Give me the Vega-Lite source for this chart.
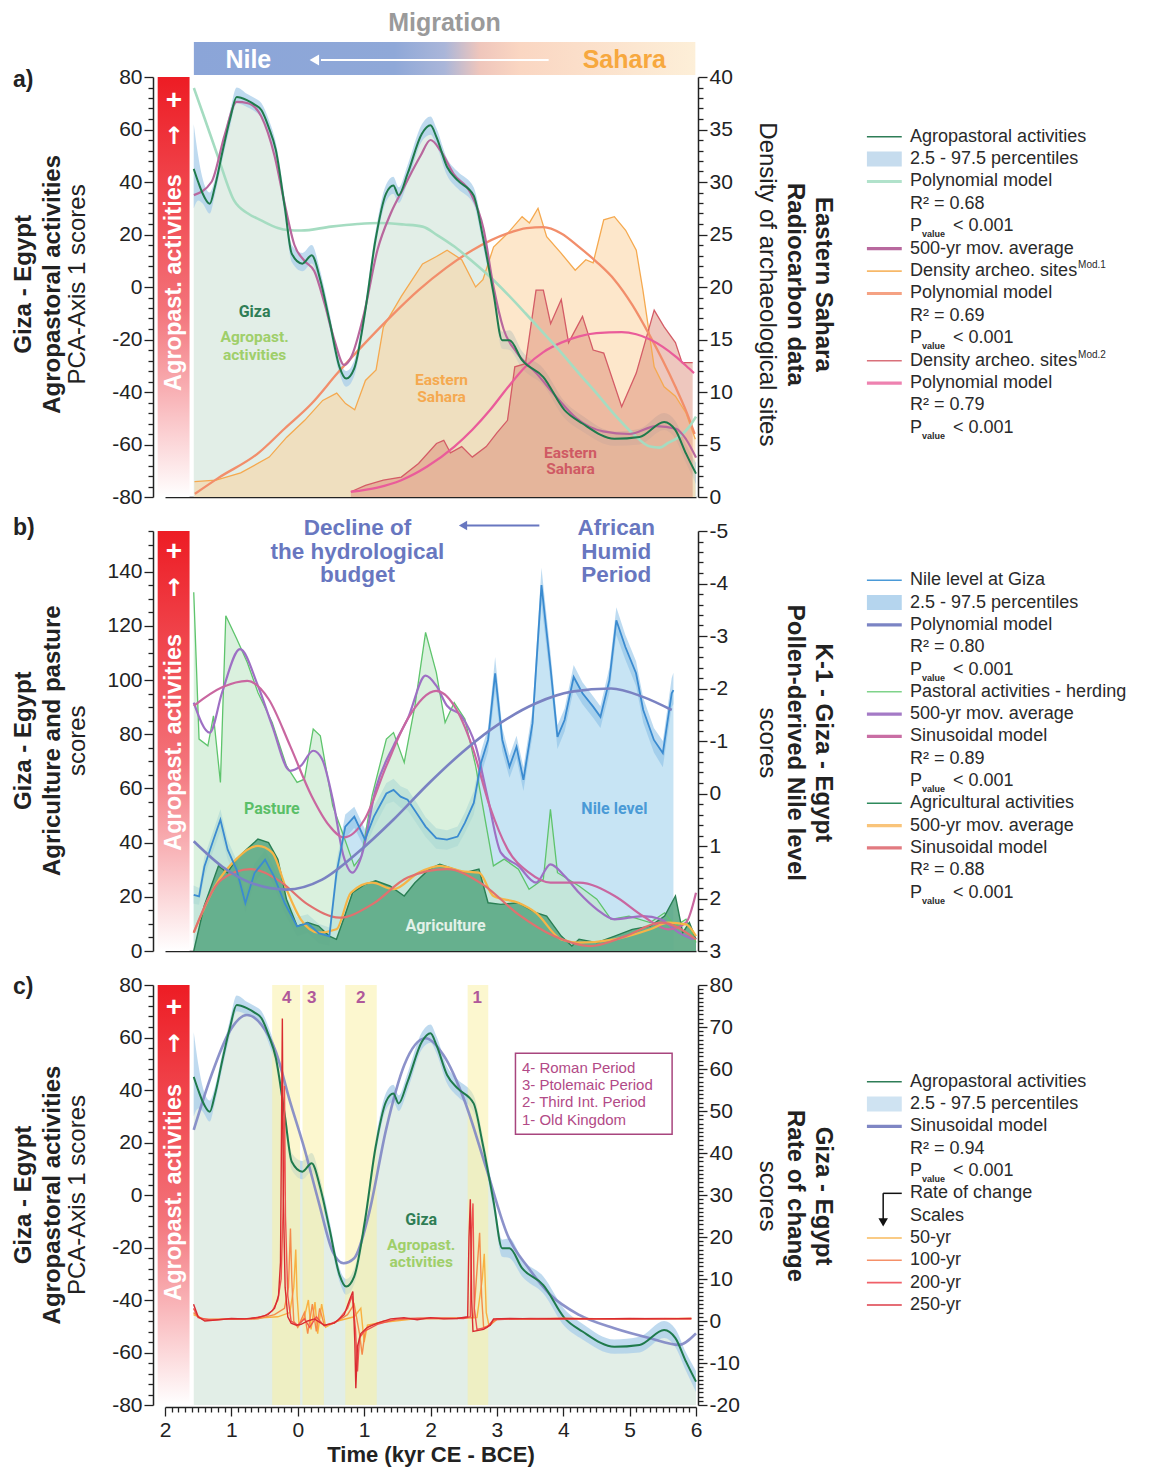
{
"$schema":"https://vega.github.io/schema/vega-lite/v6.json",
"background":"white",
"padding":{"left":12,"top":10,"right":5,"bottom":5},
"autosize":{"type":"pad"},
"config":{"view":{"stroke":null},"font":"Liberation Sans","axis":{"labelFont":"Liberation Sans","labelFontSize":21,"labelColor":"#222","domainColor":"#222","tickColor":"#222","domainWidth":1.5,"tickWidth":1.3,"grid":false,"labelOverlap":false,"labelFlush":false}},
"datasets":{
"one":[{}],
"agro":[{"t":-1.567,"v":45,"lo":30,"hi":62},{"t":-1.5,"v":40,"lo":33,"hi":50},{"t":-1.44,"v":36,"lo":32,"hi":42},{"t":-1.326,"v":31.7,"lo":28,"hi":36},{"t":-1.25,"v":38,"lo":35,"hi":41},{"t":-1.13,"v":52,"lo":49,"hi":55},{"t":-1.02,"v":64,"lo":61,"hi":67},{"t":-0.92,"v":72.4,"lo":70,"hi":76},{"t":-0.76,"v":71.1,"lo":68.5,"hi":73.5},{"t":-0.65,"v":69.5,"lo":67,"hi":72},{"t":-0.546,"v":67.3,"lo":64.5,"hi":70},{"t":-0.44,"v":61,"lo":58,"hi":64},{"t":-0.33,"v":52.2,"lo":49,"hi":55},{"t":-0.196,"v":30.5,"lo":27,"hi":34},{"t":-0.09,"v":12.7,"lo":9.5,"hi":16},{"t":0.07,"v":8.9,"lo":6,"hi":13},{"t":0.21,"v":12.1,"lo":9,"hi":16},{"t":0.34,"v":2.7,"lo":-0.5,"hi":6},{"t":0.476,"v":-12.6,"lo":-15.5,"hi":-9.5},{"t":0.63,"v":-30.5,"lo":-33,"hi":-28},{"t":0.73,"v":-34.9,"lo":-38,"hi":-32},{"t":0.85,"v":-31.1,"lo":-34,"hi":-28},{"t":1.01,"v":-10.2,"lo":-13,"hi":-7},{"t":1.17,"v":17.8,"lo":15,"hi":21},{"t":1.33,"v":35.6,"lo":32.5,"hi":39},{"t":1.44,"v":38.7,"lo":35.5,"hi":42},{"t":1.52,"v":34.9,"lo":32,"hi":38},{"t":1.655,"v":43.2,"lo":40,"hi":46.5},{"t":1.87,"v":58.4,"lo":55.5,"hi":62},{"t":2.0,"v":61.6,"lo":58,"hi":65},{"t":2.09,"v":57.1,"lo":54,"hi":60.5},{"t":2.25,"v":45.7,"lo":42.5,"hi":49},{"t":2.41,"v":40.6,"lo":37.5,"hi":44},{"t":2.65,"v":34.9,"lo":31.5,"hi":38},{"t":2.78,"v":20.3,"lo":17,"hi":23.5},{"t":2.95,"v":-2.5,"lo":-5.5,"hi":0.5},{"t":3.08,"v":-20.3,"lo":-23.5,"hi":-17},{"t":3.19,"v":-20.3,"lo":-24,"hi":-16.5},{"t":3.38,"v":-27.9,"lo":-31,"hi":-24.5},{"t":3.7,"v":-34.3,"lo":-37.5,"hi":-31},{"t":4.02,"v":-46.9,"lo":-50,"hi":-43.5},{"t":4.29,"v":-52,"lo":-55,"hi":-49},{"t":4.77,"v":-57.8,"lo":-60.5,"hi":-55},{"t":5.15,"v":-57.1,"lo":-60,"hi":-54},{"t":5.52,"v":-51.4,"lo":-54.5,"hi":-48},{"t":5.69,"v":-54.5,"lo":-58,"hi":-51},{"t":5.85,"v":-63.5,"lo":-67,"hi":-60},{"t":6.0,"v":-71.1,"lo":-75,"hi":-67}],
"mintA":[{"t":-1.565,"v":75.8},{"t":-1.4,"v":64},{"t":-1.2,"v":49.5},{"t":-0.96,"v":33},{"t":-0.75,"v":28},{"t":-0.56,"v":25.5},{"t":-0.3,"v":22.5},{"t":-0.15,"v":21.7},{"t":0.05,"v":21.5},{"t":0.5,"v":23},{"t":0.9,"v":24},{"t":1.23,"v":24.4},{"t":1.6,"v":23.8},{"t":1.88,"v":23},{"t":2.1,"v":19.8},{"t":2.36,"v":15.4},{"t":2.62,"v":10},{"t":2.9,"v":3.8},{"t":3.17,"v":-3},{"t":3.43,"v":-10},{"t":3.7,"v":-17.5},{"t":3.97,"v":-25},{"t":4.24,"v":-33},{"t":4.5,"v":-40.4},{"t":4.77,"v":-48.5},{"t":5.04,"v":-55.6},{"t":5.31,"v":-60.8},{"t":5.45,"v":-61.2},{"t":5.58,"v":-59.4},{"t":5.75,"v":-57},{"t":5.9,"v":-53.2},{"t":6.0,"v":-49.4}],
"avgA":[{"t":-1.565,"v":35},{"t":-1.3,"v":40},{"t":-1.1,"v":58},{"t":-0.92,"v":70.5},{"t":-0.75,"v":70},{"t":-0.55,"v":65},{"t":-0.35,"v":50},{"t":-0.2,"v":32},{"t":-0.05,"v":16},{"t":0.1,"v":10},{"t":0.25,"v":6},{"t":0.4,"v":-6},{"t":0.55,"v":-20},{"t":0.7,"v":-29.7},{"t":0.8,"v":-27},{"t":1.0,"v":-10},{"t":1.2,"v":14},{"t":1.4,"v":28},{"t":1.6,"v":38},{"t":1.85,"v":50},{"t":2.0,"v":56},{"t":2.15,"v":52},{"t":2.35,"v":43},{"t":2.6,"v":36},{"t":2.8,"v":22},{"t":2.95,"v":0},{"t":3.1,"v":-16},{"t":3.3,"v":-25},{"t":3.6,"v":-33},{"t":3.9,"v":-42},{"t":4.2,"v":-50},{"t":4.6,"v":-55},{"t":5.0,"v":-56},{"t":5.4,"v":-53},{"t":5.7,"v":-54},{"t":5.85,"v":-58},{"t":6.0,"v":-65}],
"dens1":[{"t":-1.556,"d":1.46},{"t":-1.23,"d":1.6},{"t":-0.86,"d":2.3},{"t":-0.43,"d":3.8},{"t":-0.166,"d":5.7},{"t":0.105,"d":7.3},{"t":0.376,"d":9.2},{"t":0.587,"d":9.9},{"t":0.72,"d":8.9},{"t":0.858,"d":8.3},{"t":1.02,"d":11.1},{"t":1.18,"d":12.1},{"t":1.29,"d":16.2},{"t":1.56,"d":19.1},{"t":1.88,"d":22.2},{"t":2.09,"d":22.9},{"t":2.25,"d":23.5},{"t":2.47,"d":22.6},{"t":2.68,"d":20},{"t":2.79,"d":20.7},{"t":2.95,"d":23.8},{"t":3.16,"d":25.1},{"t":3.38,"d":26.7},{"t":3.49,"d":26.1},{"t":3.62,"d":27.5},{"t":3.75,"d":24.8},{"t":3.97,"d":23.2},{"t":4.18,"d":21.6},{"t":4.34,"d":22.6},{"t":4.45,"d":22.3},{"t":4.61,"d":26.4},{"t":4.77,"d":26.7},{"t":4.94,"d":25.4},{"t":5.1,"d":23.5},{"t":5.2,"d":19.7},{"t":5.37,"d":12.4},{"t":5.52,"d":10.5},{"t":5.69,"d":9.6},{"t":5.85,"d":8},{"t":5.99,"d":5.5}],
"poly1":[{"t":-1.55,"d":0.3},{"t":-1.2,"d":1.8},{"t":-0.59,"d":4.2},{"t":-0.2,"d":6.5},{"t":0.21,"d":8.9},{"t":0.6,"d":11.8},{"t":1.02,"d":14.7},{"t":1.42,"d":17.3},{"t":1.82,"d":19.7},{"t":2.23,"d":21.8},{"t":2.63,"d":23.5},{"t":3.16,"d":25.1},{"t":3.45,"d":25.6},{"t":3.7,"d":25.7},{"t":3.97,"d":25.1},{"t":4.24,"d":23.8},{"t":4.5,"d":22.4},{"t":4.77,"d":20.7},{"t":5.04,"d":18.3},{"t":5.31,"d":15.3},{"t":5.5,"d":13},{"t":5.69,"d":10.5},{"t":5.85,"d":8.2},{"t":5.98,"d":6.0}],
"dens2":[{"t":0.8,"d":0.5},{"t":1.02,"d":1.1},{"t":1.29,"d":1.6},{"t":1.56,"d":1.9},{"t":1.82,"d":3.2},{"t":2.09,"d":5.1},{"t":2.2,"d":5.4},{"t":2.3,"d":4.2},{"t":2.47,"d":4.8},{"t":2.63,"d":3.8},{"t":2.84,"d":4.8},{"t":3.0,"d":6.1},{"t":3.16,"d":7.3},{"t":3.27,"d":12.4},{"t":3.43,"d":12.7},{"t":3.59,"d":19.7},{"t":3.7,"d":19.7},{"t":3.81,"d":16.5},{"t":3.97,"d":18.8},{"t":4.08,"d":14.7},{"t":4.29,"d":17.2},{"t":4.45,"d":14},{"t":4.61,"d":13.7},{"t":4.88,"d":8.6},{"t":5.1,"d":11.8},{"t":5.37,"d":17.8},{"t":5.52,"d":16.2},{"t":5.69,"d":14.7},{"t":5.79,"d":12.8},{"t":5.95,"d":12.8}],
"poly2":[{"t":0.8,"d":0.5},{"t":1.2,"d":0.9},{"t":1.56,"d":1.6},{"t":1.95,"d":2.9},{"t":2.36,"d":4.8},{"t":2.63,"d":6.4},{"t":2.9,"d":8.3},{"t":3.16,"d":10.4},{"t":3.43,"d":12.4},{"t":3.7,"d":13.8},{"t":3.97,"d":14.7},{"t":4.24,"d":15.3},{"t":4.5,"d":15.6},{"t":4.88,"d":15.7},{"t":5.1,"d":15.5},{"t":5.31,"d":15.0},{"t":5.5,"d":14.3},{"t":5.69,"d":13.4},{"t":5.85,"d":12.5},{"t":5.97,"d":11.8}],
"nile":[{"t":-1.567,"w":1.93,"lo":1.75,"hi":2.1},{"t":-1.487,"w":1.96,"lo":1.8,"hi":2.12},{"t":-1.406,"w":1.39,"lo":1.2,"hi":1.58},{"t":-1.27,"w":0.88,"lo":0.7,"hi":1.08},{"t":-1.165,"w":0.5,"lo":0.3,"hi":0.72},{"t":-1.056,"w":1.07,"lo":0.88,"hi":1.25},{"t":-0.922,"w":1.45,"lo":1.27,"hi":1.63},{"t":-0.789,"w":2.09,"lo":1.9,"hi":2.27},{"t":-0.653,"w":1.52,"lo":1.34,"hi":1.7},{"t":-0.492,"w":1.26,"lo":1.08,"hi":1.44},{"t":-0.358,"w":1.58,"lo":1.4,"hi":1.76},{"t":-0.197,"w":2.09,"lo":1.9,"hi":2.28},{"t":-0.01,"w":2.53,"lo":2.35,"hi":2.72},{"t":0.15,"w":2.47,"lo":2.3,"hi":2.65},{"t":0.315,"w":2.66,"lo":2.48,"hi":2.85},{"t":0.476,"w":2.72,"lo":2.55,"hi":2.9},{"t":0.583,"w":1.52,"lo":1.3,"hi":1.72},{"t":0.716,"w":0.63,"lo":0.4,"hi":0.85},{"t":0.852,"w":0.44,"lo":0.25,"hi":0.65},{"t":1.013,"w":0.88,"lo":0.68,"hi":1.05},{"t":1.147,"w":0.44,"lo":0.25,"hi":0.65},{"t":1.335,"w":0.0,"lo":-0.2,"hi":0.2},{"t":1.443,"w":-0.07,"lo":-0.28,"hi":0.15},{"t":1.55,"w":0.06,"lo":-0.14,"hi":0.27},{"t":1.655,"w":0.12,"lo":-0.08,"hi":0.32},{"t":1.79,"w":0.37,"lo":0.17,"hi":0.57},{"t":1.926,"w":0.63,"lo":0.45,"hi":0.83},{"t":2.087,"w":0.85,"lo":0.66,"hi":1.05},{"t":2.248,"w":0.88,"lo":0.7,"hi":1.07},{"t":2.408,"w":0.82,"lo":0.63,"hi":1.0},{"t":2.518,"w":0.56,"lo":0.36,"hi":0.75},{"t":2.652,"w":0.18,"lo":-0.05,"hi":0.4},{"t":2.76,"w":-0.58,"lo":-0.8,"hi":-0.35},{"t":2.867,"w":-1.02,"lo":-1.25,"hi":-0.8},{"t":2.974,"w":-2.29,"lo":-2.6,"hi":-1.95},{"t":3.082,"w":-1.02,"lo":-1.25,"hi":-0.8},{"t":3.19,"w":-0.51,"lo":-0.72,"hi":-0.3},{"t":3.296,"w":-0.89,"lo":-1.1,"hi":-0.67},{"t":3.4,"w":-0.26,"lo":-0.5,"hi":-0.05},{"t":3.537,"w":-1.34,"lo":-1.6,"hi":-1.1},{"t":3.672,"w":-3.97,"lo":-4.3,"hi":-3.6},{"t":3.807,"w":-2.41,"lo":-2.7,"hi":-2.15},{"t":3.913,"w":-1.08,"lo":-1.3,"hi":-0.85},{"t":4.02,"w":-1.4,"lo":-1.62,"hi":-1.18},{"t":4.157,"w":-2.22,"lo":-2.45,"hi":-1.98},{"t":4.29,"w":-1.91,"lo":-2.12,"hi":-1.7},{"t":4.453,"w":-1.65,"lo":-1.85,"hi":-1.44},{"t":4.56,"w":-1.46,"lo":-1.66,"hi":-1.25},{"t":4.695,"w":-2.16,"lo":-2.4,"hi":-1.92},{"t":4.8,"w":-3.3,"lo":-3.55,"hi":-3.02},{"t":4.936,"w":-2.79,"lo":-3.02,"hi":-2.55},{"t":5.097,"w":-2.29,"lo":-2.52,"hi":-2.05},{"t":5.205,"w":-1.59,"lo":-1.82,"hi":-1.35},{"t":5.366,"w":-1.02,"lo":-1.25,"hi":-0.78},{"t":5.5,"w":-0.77,"lo":-1.0,"hi":-0.5},{"t":5.634,"w":-1.91,"lo":-2.2,"hi":-1.65},{"t":5.66,"w":-1.97,"lo":-2.3,"hi":-1.7}],
"nilePoly":[{"t":-1.567,"w":0.91},{"t":-1.14,"w":1.39},{"t":-0.71,"w":1.7},{"t":-0.17,"w":1.83},{"t":0.367,"w":1.64},{"t":0.9,"w":1.13},{"t":1.44,"w":0.5},{"t":1.98,"w":-0.2},{"t":2.52,"w":-0.83},{"t":3.05,"w":-1.34},{"t":3.59,"w":-1.72},{"t":4.13,"w":-1.94},{"t":4.72,"w":-2.0},{"t":5.2,"w":-1.84},{"t":5.634,"w":-1.59}],
"past":[{"t":-1.567,"v":132.4},{"t":-1.487,"v":78.2},{"t":-1.354,"v":75.7},{"t":-1.27,"v":86.8},{"t":-1.165,"v":62.2},{"t":-1.084,"v":123.7},{"t":-0.92,"v":115.2},{"t":-0.76,"v":106.5},{"t":-0.6,"v":95.4},{"t":-0.385,"v":84.3},{"t":-0.17,"v":68.3},{"t":-0.01,"v":62.2},{"t":0.1,"v":63.4},{"t":0.233,"v":81.9},{"t":0.34,"v":79.4},{"t":0.527,"v":53.6},{"t":0.69,"v":42.5},{"t":0.85,"v":31.4},{"t":0.96,"v":35},{"t":1.12,"v":57.3},{"t":1.335,"v":78.2},{"t":1.443,"v":80.6},{"t":1.604,"v":69.6},{"t":1.765,"v":90.5},{"t":1.926,"v":117.6},{"t":2.087,"v":102.8},{"t":2.22,"v":84.3},{"t":2.357,"v":91.7},{"t":2.518,"v":85.6},{"t":2.68,"v":68.3},{"t":2.84,"v":46.2},{"t":2.948,"v":31.4},{"t":3.11,"v":33.9},{"t":3.324,"v":30.2},{"t":3.485,"v":22.8},{"t":3.7,"v":26.5},{"t":3.807,"v":52.3},{"t":3.913,"v":28.9},{"t":4.238,"v":24},{"t":4.506,"v":19.1},{"t":4.72,"v":11.7},{"t":4.99,"v":12.9},{"t":5.31,"v":10.5},{"t":5.527,"v":14.1},{"t":5.69,"v":9.2},{"t":5.85,"v":11.7},{"t":6.0,"v":3.1}],
"pavg":[{"t":-1.567,"v":91.7},{"t":-1.325,"v":80.6},{"t":-1.14,"v":95.4},{"t":-0.87,"v":111.4},{"t":-0.6,"v":97.9},{"t":-0.385,"v":83.1},{"t":-0.115,"v":66.5},{"t":0.045,"v":68.3},{"t":0.233,"v":73.9},{"t":0.367,"v":70.8},{"t":0.527,"v":56},{"t":0.69,"v":35},{"t":0.825,"v":28.9},{"t":0.96,"v":35},{"t":1.174,"v":59.7},{"t":1.443,"v":75.7},{"t":1.655,"v":85.6},{"t":1.926,"v":101.6},{"t":2.087,"v":97.9},{"t":2.249,"v":90.5},{"t":2.464,"v":86.8},{"t":2.68,"v":75.7},{"t":2.867,"v":56},{"t":3.06,"v":36.3},{"t":3.324,"v":31.4},{"t":3.59,"v":25.2},{"t":3.807,"v":32},{"t":4.02,"v":27.7},{"t":4.238,"v":21.5},{"t":4.506,"v":15.4},{"t":4.775,"v":11.7},{"t":5.2,"v":12.9},{"t":5.47,"v":11.7},{"t":5.74,"v":6.8},{"t":5.96,"v":4.3}],
"psin":[{"t":-1.567,"v":90.5},{"t":-1.14,"v":97.3},{"t":-0.76,"v":99.7},{"t":-0.44,"v":93},{"t":-0.115,"v":75.7},{"t":0.207,"v":57.3},{"t":0.476,"v":46.2},{"t":0.69,"v":41.9},{"t":1.01,"v":48.7},{"t":1.335,"v":68.3},{"t":1.655,"v":85.6},{"t":2.087,"v":96},{"t":2.357,"v":90.5},{"t":2.625,"v":75.7},{"t":2.89,"v":53.6},{"t":3.16,"v":37.6},{"t":3.485,"v":28.9},{"t":3.807,"v":25.2},{"t":4.238,"v":25.2},{"t":4.775,"v":20.3},{"t":5.2,"v":12.9},{"t":5.58,"v":8},{"t":5.85,"v":10.5},{"t":6.0,"v":21.5}],
"agri":[{"t":-1.567,"v":0},{"t":-1.41,"v":16.6},{"t":-1.195,"v":31.4},{"t":-1.06,"v":28.9},{"t":-0.925,"v":33.9},{"t":-0.765,"v":37.6},{"t":-0.6,"v":41.3},{"t":-0.44,"v":40},{"t":-0.3,"v":33.9},{"t":-0.17,"v":19.1},{"t":-0.01,"v":9.2},{"t":0.15,"v":10.5},{"t":0.315,"v":9.2},{"t":0.476,"v":5.5},{"t":0.583,"v":4.3},{"t":0.69,"v":11.7},{"t":0.825,"v":21.5},{"t":1.01,"v":24.6},{"t":1.174,"v":25.9},{"t":1.389,"v":24},{"t":1.604,"v":20.3},{"t":1.765,"v":25.2},{"t":1.98,"v":30.2},{"t":2.14,"v":32},{"t":2.357,"v":30.2},{"t":2.518,"v":28.9},{"t":2.73,"v":30.2},{"t":2.867,"v":17.8},{"t":3.06,"v":17.2},{"t":3.324,"v":17.8},{"t":3.59,"v":14.1},{"t":3.75,"v":12.9},{"t":3.97,"v":5.5},{"t":4.13,"v":1.8},{"t":4.238,"v":4.3},{"t":4.506,"v":3.1},{"t":4.775,"v":5.5},{"t":5.04,"v":8},{"t":5.31,"v":9.2},{"t":5.527,"v":12.9},{"t":5.69,"v":20.3},{"t":5.8,"v":6.8},{"t":5.9,"v":10.5},{"t":6.0,"v":4.3}],
"aavg":[{"t":-1.567,"v":6.8},{"t":-1.245,"v":24},{"t":-0.925,"v":33.9},{"t":-0.6,"v":38.8},{"t":-0.385,"v":36.3},{"t":-0.17,"v":22.8},{"t":0.045,"v":11.7},{"t":0.315,"v":6.8},{"t":0.583,"v":8},{"t":0.8,"v":21.5},{"t":1.12,"v":25.2},{"t":1.443,"v":22.8},{"t":1.82,"v":28.9},{"t":2.14,"v":31.4},{"t":2.464,"v":29.5},{"t":2.73,"v":28.9},{"t":2.948,"v":20.3},{"t":3.324,"v":17.8},{"t":3.59,"v":14.1},{"t":3.97,"v":4.3},{"t":4.238,"v":3.1},{"t":4.775,"v":4.3},{"t":5.31,"v":8},{"t":5.58,"v":10.5},{"t":5.85,"v":9.8},{"t":6.0,"v":5.5}],
"asin":[{"t":-1.567,"v":6.8},{"t":-1.14,"v":26.5},{"t":-0.71,"v":30.2},{"t":-0.277,"v":25.9},{"t":0.15,"v":17.2},{"t":0.63,"v":12.3},{"t":1.12,"v":17.2},{"t":1.655,"v":27.1},{"t":2.249,"v":30.2},{"t":2.785,"v":24.6},{"t":3.324,"v":13.5},{"t":3.86,"v":5.5},{"t":4.4,"v":1.8},{"t":4.94,"v":5.5},{"t":5.47,"v":10.5},{"t":6.0,"v":4.3}],
"sinC":[{"t":-1.567,"v":24.8},{"t":-1.3,"v":45.7},{"t":-1.03,"v":62.2},{"t":-0.765,"v":68.6},{"t":-0.546,"v":64.8},{"t":-0.33,"v":54.6},{"t":-0.116,"v":35.6},{"t":0.099,"v":17.8},{"t":0.314,"v":-2.5},{"t":0.527,"v":-21.6},{"t":0.69,"v":-26},{"t":0.85,"v":-24.1},{"t":1.068,"v":-7.6},{"t":1.335,"v":25.4},{"t":1.605,"v":49.5},{"t":1.926,"v":59.7},{"t":2.195,"v":53.3},{"t":2.517,"v":35.6},{"t":2.84,"v":10.2},{"t":3.16,"v":-15.2},{"t":3.48,"v":-27.9},{"t":3.81,"v":-38.1},{"t":4.24,"v":-45.7},{"t":4.77,"v":-50.8},{"t":5.31,"v":-54.6},{"t":5.74,"v":-57.1},{"t":6.0,"v":-52.7}],
"roc250":[{"t":-1.57,"r":4},{"t":-1.5,"r":1},{"t":-1.4,"r":0},{"t":-1.2,"r":0.3},{"t":-1.0,"r":0.6},{"t":-0.8,"r":0.5},{"t":-0.6,"r":0.8},{"t":-0.45,"r":1.5},{"t":-0.35,"r":3},{"t":-0.29,"r":6},{"t":-0.26,"r":14},{"t":-0.245,"r":45},{"t":-0.232,"r":72},{"t":-0.218,"r":30},{"t":-0.19,"r":8},{"t":-0.15,"r":1},{"t":-0.1,"r":-0.5},{"t":-0.02,"r":-1},{"t":0.05,"r":-0.8},{"t":0.15,"r":0},{"t":0.25,"r":0.5},{"t":0.4,"r":-1},{"t":0.55,"r":-0.5},{"t":0.7,"r":1.5},{"t":0.78,"r":5},{"t":0.83,"r":7},{"t":0.86,"r":-5},{"t":0.875,"r":-16},{"t":0.9,"r":-6},{"t":0.95,"r":-3},{"t":1.05,"r":-1.5},{"t":1.2,"r":-0.5},{"t":1.4,"r":0.5},{"t":1.6,"r":0.8},{"t":1.8,"r":0.3},{"t":2.0,"r":0.8},{"t":2.2,"r":0.5},{"t":2.4,"r":0.6},{"t":2.56,"r":1},{"t":2.58,"r":20},{"t":2.6,"r":29},{"t":2.62,"r":5},{"t":2.64,"r":-2.5},{"t":2.8,"r":-2},{"t":2.9,"r":-1},{"t":2.95,"r":0.5},{"t":3.2,"r":0.6},{"t":3.6,"r":0.5},{"t":4.0,"r":0.6},{"t":4.5,"r":0.5},{"t":5.0,"r":0.6},{"t":5.5,"r":0.5},{"t":5.93,"r":0.6}],
"roc200":[{"t":-1.57,"r":3},{"t":-1.5,"r":0.8},{"t":-1.3,"r":0.2},{"t":-1.0,"r":0.5},{"t":-0.7,"r":0.6},{"t":-0.5,"r":1.2},{"t":-0.38,"r":2.5},{"t":-0.3,"r":5},{"t":-0.25,"r":10},{"t":-0.215,"r":30},{"t":-0.2,"r":56},{"t":-0.185,"r":25},{"t":-0.15,"r":6},{"t":-0.1,"r":0},{"t":0.0,"r":-1},{"t":0.1,"r":0.5},{"t":0.18,"r":-1.5},{"t":0.28,"r":1},{"t":0.4,"r":-1.2},{"t":0.6,"r":0},{"t":0.75,"r":3},{"t":0.82,"r":6},{"t":0.87,"r":-2},{"t":0.9,"r":-12},{"t":0.93,"r":-4},{"t":1.0,"r":-2.5},{"t":1.2,"r":-0.8},{"t":1.5,"r":0.5},{"t":2.0,"r":0.7},{"t":2.5,"r":0.6},{"t":2.6,"r":1},{"t":2.62,"r":22},{"t":2.64,"r":28},{"t":2.66,"r":3},{"t":2.7,"r":-2},{"t":2.85,"r":-1.5},{"t":2.95,"r":0.3},{"t":3.5,"r":0.6},{"t":4.5,"r":0.5},{"t":5.5,"r":0.6},{"t":5.93,"r":0.5}],
"roc100":[{"t":-1.57,"r":2},{"t":-1.45,"r":0.5},{"t":-1.0,"r":0.4},{"t":-0.6,"r":0.5},{"t":-0.35,"r":1.5},{"t":-0.2,"r":3},{"t":-0.14,"r":8},{"t":-0.11,"r":22},{"t":-0.09,"r":10},{"t":-0.06,"r":0},{"t":0.0,"r":-1.5},{"t":0.1,"r":2},{"t":0.15,"r":-3},{"t":0.22,"r":4},{"t":0.28,"r":-2.5},{"t":0.33,"r":3},{"t":0.4,"r":-1},{"t":0.55,"r":-0.5},{"t":0.75,"r":1.5},{"t":0.85,"r":4},{"t":0.93,"r":-3},{"t":0.97,"r":-8},{"t":1.02,"r":-2},{"t":1.1,"r":-1},{"t":1.3,"r":0},{"t":1.7,"r":0.6},{"t":2.2,"r":0.5},{"t":2.65,"r":0.8},{"t":2.7,"r":12},{"t":2.74,"r":21},{"t":2.77,"r":6},{"t":2.8,"r":-1.5},{"t":2.9,"r":-1},{"t":3.0,"r":0.5},{"t":4.0,"r":0.6},{"t":5.0,"r":0.5},{"t":5.93,"r":0.6}],
"roc50":[{"t":-1.57,"r":1.5},{"t":-1.4,"r":0.3},{"t":-0.8,"r":0.5},{"t":-0.3,"r":1},{"t":-0.12,"r":2},{"t":-0.06,"r":8},{"t":-0.03,"r":17},{"t":-0.01,"r":6},{"t":0.02,"r":-1},{"t":0.1,"r":1},{"t":0.16,"r":5},{"t":0.2,"r":-2},{"t":0.26,"r":4.5},{"t":0.3,"r":-3},{"t":0.36,"r":4},{"t":0.42,"r":-1.5},{"t":0.6,"r":0},{"t":0.85,"r":1},{"t":0.95,"r":3},{"t":1.0,"r":-5},{"t":1.05,"r":-1},{"t":1.2,"r":-0.5},{"t":1.8,"r":0.6},{"t":2.7,"r":0.8},{"t":2.78,"r":10},{"t":2.81,"r":16},{"t":2.84,"r":2},{"t":2.88,"r":-1},{"t":3.0,"r":0.4},{"t":4.0,"r":0.6},{"t":5.0,"r":0.5},{"t":5.93,"r":0.6}],
"periods":[{"n":"4","t0":-0.385,"t1":0.035,"tm":-0.165},{"n":"3","t0":0.072,"t1":0.394,"tm":0.21},{"n":"2","t0":0.716,"t1":1.19,"tm":0.95},{"n":"1","t0":2.56,"t1":2.87,"tm":2.705}],
"legA":[{"row":0,"key":"agro","label":"Agropastoral activities"},{"row":1,"key":"band","label":"2.5 - 97.5 percentiles"},{"row":2,"key":"poly1","label":"Polynomial model"},{"row":3,"label":"R² = 0.68"},{"row":4,"label":"P","suffix":"< 0.001"},{"row":5,"key":"avg","label":"500-yr mov. average"},{"row":6,"key":"dens1","label":"Density archeo. sites","sup":"Mod.1"},{"row":7,"key":"poly2","label":"Polynomial model"},{"row":8,"label":"R² = 0.69"},{"row":9,"label":"P","suffix":"< 0.001"},{"row":10,"key":"dens2","label":"Density archeo. sites","sup":"Mod.2"},{"row":11,"key":"poly3","label":"Polynomial model"},{"row":12,"label":"R² = 0.79"},{"row":13,"label":"P","suffix":"< 0.001"}],
"legB":[{"row":0,"key":"nile","label":"Nile level at Giza"},{"row":1,"key":"band","label":"2.5 - 97.5 percentiles"},{"row":2,"key":"poly","label":"Polynomial model"},{"row":3,"label":"R² = 0.80"},{"row":4,"label":"P","suffix":"< 0.001"},{"row":5,"key":"past","label":"Pastoral activities - herding"},{"row":6,"key":"pavg","label":"500-yr mov. average"},{"row":7,"key":"psin","label":"Sinusoidal model"},{"row":8,"label":"R² = 0.89"},{"row":9,"label":"P","suffix":"< 0.001"},{"row":10,"key":"agri","label":"Agricultural activities"},{"row":11,"key":"aavg","label":"500-yr mov. average"},{"row":12,"key":"asin","label":"Sinusoidal model"},{"row":13,"label":"R² = 0.88"},{"row":14,"label":"P","suffix":"< 0.001"}],
"legC":[{"row":0,"key":"agro","label":"Agropastoral activities"},{"row":1,"key":"band","label":"2.5 - 97.5 percentiles"},{"row":2,"key":"sin","label":"Sinusoidal model"},{"row":3,"label":"R² = 0.94"},{"row":4,"label":"P","suffix":"< 0.001"},{"row":5,"label":"Rate of change"},{"row":6,"label":"Scales"},{"row":7,"key":"r50","label":"50-yr"},{"row":8,"key":"r100","label":"100-yr"},{"row":9,"key":"r200","label":"200-yr"},{"row":10,"key":"r250","label":"250-yr"}]
},
"spacing":34,
"bounds":"flush",
"resolve":{"scale":{"color":"independent"}},
"vconcat":[
{
"width":531,"height":420,
"resolve":{"scale":{"y":"independent"}},
"layer":[
{"layer":[
{"data":{"name":"agro"},"mark":{"type":"area","color":"#e2eee7","interpolate":"monotone"},"encoding":{"x":{"field":"t","type":"quantitative","scale":{"domain":[-2,6],"nice":false,"zero":false},"axis":{"orient":"bottom","labels":false,"ticks":false,"domain":true,"title":null}},"y":{"field":"v","type":"quantitative","scale":{"domain":[-80,80],"nice":false,"zero":false},"axis":{"orient":"left","offset":12,"tickCount":1000,"values":[-80,-76,-72,-68,-64,-60,-56,-52,-48,-44,-40,-36,-32,-28,-24,-20,-16,-12,-8,-4,0,4,8,12,16,20,24,28,32,36,40,44,48,52,56,60,64,68,72,76,80],"labelExpr":"datum.value % 20 == 0 ? (datum.value < 0 ? '-' : '') + format(abs(datum.value),'d') : ''","tickSize":{"condition":{"test":"datum.value % 20 == 0","value":9},"value":5},"title":null,"labelPadding":2}},"y2":{"datum":-80}}},
{"data":{"name":"agro"},"mark":{"type":"area","color":"#a9cde9","opacity":0.75,"interpolate":"monotone"},"encoding":{"x":{"field":"t","type":"quantitative"},"y":{"field":"lo","type":"quantitative"},"y2":{"field":"hi"}}}
]},
{"layer":[
{"data":{"name":"dens1"},"mark":{"type":"area","color":"#fbcf98","opacity":0.5},"encoding":{"x":{"field":"t","type":"quantitative"},"y":{"field":"d","type":"quantitative","scale":{"domain":[0,40],"nice":false,"zero":false},"axis":{"orient":"right","offset":2,"tickCount":1000,"values":[0,1,2,3,4,5,6,7,8,9,10,11,12,13,14,15,16,17,18,19,20,21,22,23,24,25,26,27,28,29,30,31,32,33,34,35,36,37,38,39,40],"labelExpr":"datum.value % 5 == 0 ? format(datum.value,'d') : ''","tickSize":{"condition":{"test":"datum.value % 5 == 0","value":9},"value":5},"title":null,"labelPadding":2}},"y2":{"datum":0}}},
{"data":{"name":"dens2"},"mark":{"type":"area","color":"#d9836f","opacity":0.45},"encoding":{"x":{"field":"t","type":"quantitative"},"y":{"field":"d","type":"quantitative"},"y2":{"datum":0}}},
{"data":{"name":"dens1"},"mark":{"type":"line","color":"#f5a94f","strokeWidth":1.3},"encoding":{"x":{"field":"t","type":"quantitative"},"y":{"field":"d","type":"quantitative"}}},
{"data":{"name":"dens2"},"mark":{"type":"line","color":"#d45c66","strokeWidth":1.3},"encoding":{"x":{"field":"t","type":"quantitative"},"y":{"field":"d","type":"quantitative"}}},
{"data":{"name":"poly1"},"mark":{"type":"line","color":"#f28e6b","strokeWidth":2.3,"interpolate":"monotone"},"encoding":{"x":{"field":"t","type":"quantitative"},"y":{"field":"d","type":"quantitative"}}},
{"data":{"name":"poly2"},"mark":{"type":"line","color":"#ea5c9a","strokeWidth":2.3,"interpolate":"monotone"},"encoding":{"x":{"field":"t","type":"quantitative"},"y":{"field":"d","type":"quantitative"}}}
]},
{"layer":[
{"data":{"name":"mintA"},"mark":{"type":"line","color":"#a5dcc1","strokeWidth":2.6,"interpolate":"monotone"},"encoding":{"x":{"field":"t","type":"quantitative"},"y":{"field":"v","type":"quantitative","scale":{"domain":[-80,80],"nice":false,"zero":false},"axis":null}}},
{"data":{"name":"avgA"},"mark":{"type":"line","color":"#b8679d","strokeWidth":2.2,"interpolate":"monotone"},"encoding":{"x":{"field":"t","type":"quantitative"},"y":{"field":"v","type":"quantitative"}}},
{"data":{"name":"agro"},"mark":{"type":"line","color":"#1f7a4c","strokeWidth":2,"interpolate":"monotone"},"encoding":{"x":{"field":"t","type":"quantitative"},"y":{"field":"v","type":"quantitative"}}},
{"data":{"name":"one"},"mark":{"type":"rect","fill":{"gradient":"linear","x1":0,"y1":0,"x2":0,"y2":1,"stops":[{"offset":0,"color":"#ed1c24"},{"offset":0.55,"color":"#f37279"},{"offset":1,"color":"#ffffff"}]}},"encoding":{"x":{"datum":-2.11},"x2":{"datum":-1.63},"y":{"datum":-80},"y2":{"datum":80}}},
{"data":{"name":"one"},"mark":{"type":"text","text":"Agropast. activities","angle":270,"color":"white","fontSize":23.5,"fontWeight":"bold"},"encoding":{"x":{"datum":-1.866},"y":{"datum":1.7}}},
{"data":{"name":"one"},"mark":{"type":"text","text":"+","color":"white","fontSize":28,"fontWeight":"bold"},"encoding":{"x":{"datum":-1.866},"y":{"datum":71}}},
{"data":{"name":"one"},"mark":{"type":"text","text":"↑","font":"DejaVu Sans","color":"white","fontSize":24,"fontWeight":"bold"},"encoding":{"x":{"datum":-1.866},"y":{"datum":57}}},
{"data":{"name":"one"},"mark":{"type":"rect","fill":{"gradient":"linear","x1":0,"y1":0,"x2":1,"y2":0,"stops":[{"offset":0,"color":"#8ba5d8"},{"offset":0.4,"color":"#8fa8d8"},{"offset":0.5,"color":"#aab6d9"},{"offset":0.57,"color":"#efc6bc"},{"offset":0.65,"color":"#fad6c2"},{"offset":1,"color":"#fdefd8"}]}},"encoding":{"x":{"datum":-1.565},"x2":{"datum":5.99},"y":{"datum":80.8},"y2":{"datum":93.3}}},
{"data":{"name":"one"},"mark":{"type":"text","text":"Nile","color":"white","fontSize":25,"fontWeight":"bold"},"encoding":{"x":{"datum":-0.745},"y":{"datum":86.5}}},
{"data":{"name":"one"},"mark":{"type":"rule","color":"white","strokeWidth":2},"encoding":{"x":{"datum":0.35},"x2":{"datum":3.78},"y":{"datum":86.5}}},
{"data":{"name":"one"},"mark":{"type":"point","shape":"triangle-left","filled":true,"color":"white","opacity":1,"size":120},"encoding":{"x":{"datum":0.25},"y":{"datum":86.5}}},
{"data":{"name":"one"},"mark":{"type":"text","text":"Sahara","color":"#f7a83e","fontSize":25,"fontWeight":"bold"},"encoding":{"x":{"datum":4.92},"y":{"datum":86.5}}},
{"data":{"name":"one"},"mark":{"type":"text","text":"Migration","color":"#9a9a9a","fontSize":25,"fontWeight":"bold"},"encoding":{"x":{"datum":2.21},"y":{"datum":100.6}}},
{"data":{"name":"one"},"mark":{"type":"text","text":"a)","align":"left","color":"#222","fontSize":23,"fontWeight":"bold"},"encoding":{"x":{"datum":-4.29},"y":{"datum":78.9}}},
{"data":{"name":"one"},"mark":{"type":"text","text":"Giza - Egypt","angle":270,"color":"#222","fontSize":24,"fontWeight":"bold"},"encoding":{"x":{"datum":-4.123},"y":{"datum":1}}},
{"data":{"name":"one"},"mark":{"type":"text","text":"Agropastoral activities","angle":270,"color":"#222","fontSize":24,"fontWeight":"bold"},"encoding":{"x":{"datum":-3.687},"y":{"datum":1}}},
{"data":{"name":"one"},"mark":{"type":"text","text":"PCA-Axis 1 scores","angle":270,"color":"#222","fontSize":24},"encoding":{"x":{"datum":-3.311},"y":{"datum":1}}},
{"data":{"name":"one"},"mark":{"type":"text","text":"Density of archaeological sites","angle":90,"color":"#222","fontSize":24},"encoding":{"x":{"datum":7.073},"y":{"datum":1}}},
{"data":{"name":"one"},"mark":{"type":"text","text":"Radiocarbon data","angle":90,"color":"#222","fontSize":24,"fontWeight":"bold"},"encoding":{"x":{"datum":7.494},"y":{"datum":1}}},
{"data":{"name":"one"},"mark":{"type":"text","text":"Eastern Sahara","angle":90,"color":"#222","fontSize":24,"fontWeight":"bold"},"encoding":{"x":{"datum":7.916},"y":{"datum":1}}},
{"data":{"name":"one"},"mark":{"type":"text","text":"Giza","font":"Liberation Sans Narrow, Roboto","color":"#2f7d55","fontSize":16,"fontWeight":"bold"},"encoding":{"x":{"datum":-0.65},"y":{"datum":-9.5}}},
{"data":{"name":"one"},"mark":{"type":"text","text":["Agropast.","activities"],"baseline":"top","lineHeight":17.3,"font":"Liberation Sans Narrow, Roboto","color":"#9fcf6a","fontSize":15.5,"fontWeight":"bold"},"encoding":{"x":{"datum":-0.65},"y":{"datum":-16.5}}},
{"data":{"name":"one"},"mark":{"type":"text","text":["Eastern","Sahara"],"baseline":"top","lineHeight":16.5,"font":"Liberation Sans Narrow, Roboto","color":"#f5a94f","fontSize":15.5,"fontWeight":"bold"},"encoding":{"x":{"datum":2.167},"y":{"datum":-32.8}}},
{"data":{"name":"one"},"mark":{"type":"text","text":["Eastern","Sahara"],"baseline":"top","lineHeight":15.5,"font":"Liberation Sans Narrow, Roboto","color":"#cf5a64","fontSize":15.5,"fontWeight":"bold"},"encoding":{"x":{"datum":4.108},"y":{"datum":-60.7}}}
]},
{"layer":[
{"data":{"name":"legA"},"transform":[{"filter":"indexof(['agro','dens1','dens2'],datum.key) >= 0"}],"mark":{"type":"rule","strokeWidth":1.6},"encoding":{"x":{"datum":8.575},"x2":{"datum":9.1},"y":{"field":"row","type":"quantitative","scale":{"domain":[-2.665,16.085],"nice":false,"zero":false,"reverse":true},"axis":null},"color":{"field":"key","type":"nominal","scale":{"domain":["agro","band","poly1","avg","dens1","poly2","dens2","poly3"],"range":["#2e7d57","#c6dcee","#b1e2cb","#b8689e","#f7b869","#f5a283","#d9707a","#ee82b0"]},"legend":null}}},
{"data":{"name":"legA"},"transform":[{"filter":"indexof(['poly1','avg','poly2','poly3'],datum.key) >= 0"}],"mark":{"type":"rule","strokeWidth":3.2},"encoding":{"x":{"datum":8.575},"x2":{"datum":9.1},"y":{"field":"row","type":"quantitative"},"color":{"field":"key","type":"nominal","legend":null}}},
{"data":{"name":"legA"},"transform":[{"filter":"datum.key == 'band'"}],"mark":{"type":"rule","strokeWidth":15},"encoding":{"x":{"datum":8.575},"x2":{"datum":9.1},"y":{"field":"row","type":"quantitative"},"color":{"field":"key","type":"nominal","legend":null}}},
{"data":{"name":"legA"},"mark":{"type":"text","align":"left","baseline":"middle","fontSize":18,"color":"#2a2a2a"},"encoding":{"x":{"datum":9.225},"y":{"field":"row","type":"quantitative"},"text":{"field":"label"}}},
{"data":{"name":"legA"},"transform":[{"filter":"datum.suffix"}],"mark":{"type":"text","align":"left","baseline":"middle","fontSize":18,"color":"#2a2a2a","dx":43},"encoding":{"x":{"datum":9.225},"y":{"field":"row","type":"quantitative"},"text":{"field":"suffix"}}},
{"data":{"name":"legA"},"transform":[{"filter":"datum.label == 'P'"}],"mark":{"type":"text","text":"value","align":"left","baseline":"middle","fontSize":9,"fontWeight":"bold","color":"#2a2a2a","dx":12,"dy":8},"encoding":{"x":{"datum":9.225},"y":{"field":"row","type":"quantitative"}}},
{"data":{"name":"legA"},"transform":[{"filter":"datum.sup"}],"mark":{"type":"text","align":"left","baseline":"middle","fontSize":10,"color":"#2a2a2a","dx":168,"dy":-6},"encoding":{"x":{"datum":9.225},"y":{"field":"row","type":"quantitative"},"text":{"field":"sup"}}}
]}
]
},
{
"width":531,"height":420,
"resolve":{"scale":{"y":"independent"}},
"layer":[
{"layer":[
{"data":{"name":"nile"},"mark":{"type":"area","color":"#c7e4f4"},"encoding":{"x":{"field":"t","type":"quantitative","scale":{"domain":[-2,6],"nice":false,"zero":false},"axis":{"orient":"bottom","labels":false,"ticks":false,"domain":true,"title":null}},"y":{"field":"w","type":"quantitative","scale":{"domain":[-5,3],"nice":false,"zero":false,"reverse":true},"axis":{"orient":"right","offset":2,"tickCount":1000,"values":[-5,-4.8,-4.6,-4.4,-4.2,-4,-3.8,-3.6,-3.4,-3.2,-3,-2.8,-2.6,-2.4,-2.2,-2,-1.8,-1.6,-1.4,-1.2,-1,-0.8,-0.6,-0.4,-0.2,0,0.2,0.4,0.6,0.8,1,1.2,1.4,1.6,1.8,2,2.2,2.4,2.6,2.8,3],"labelExpr":"abs(datum.value-round(datum.value))<0.001 ? (datum.value < -0.5 ? '-' : '') + format(abs(round(datum.value)),'d') : ''","tickSize":{"condition":{"test":"abs(datum.value-round(datum.value))<0.001","value":9},"value":5},"title":null,"labelPadding":2}},"y2":{"datum":3}}},
{"data":{"name":"nile"},"mark":{"type":"area","color":"#86bde5","opacity":0.55},"encoding":{"x":{"field":"t","type":"quantitative"},"y":{"field":"lo","type":"quantitative"},"y2":{"field":"hi"}}}
]},
{"layer":[
{"data":{"name":"past"},"mark":{"type":"area","color":"#c2e7c8","opacity":0.6},"encoding":{"x":{"field":"t","type":"quantitative"},"y":{"field":"v","type":"quantitative","scale":{"domain":[0,155],"nice":false,"zero":false},"axis":{"orient":"left","offset":12,"tickCount":1000,"values":[0,5,10,15,20,25,30,35,40,45,50,55,60,65,70,75,80,85,90,95,100,105,110,115,120,125,130,135,140,145,150,155],"labelExpr":"datum.value % 20 == 0 ? format(datum.value,'d') : ''","tickSize":{"condition":{"test":"datum.value % 20 == 0","value":9},"value":5},"title":null,"labelPadding":2}},"y2":{"datum":0}}},
{"data":{"name":"agri"},"mark":{"type":"area","color":"#56a680","opacity":0.85},"encoding":{"x":{"field":"t","type":"quantitative"},"y":{"field":"v","type":"quantitative"},"y2":{"datum":0}}},
{"data":{"name":"past"},"mark":{"type":"line","color":"#5ec46c","strokeWidth":1.3},"encoding":{"x":{"field":"t","type":"quantitative"},"y":{"field":"v","type":"quantitative"}}},
{"data":{"name":"agri"},"mark":{"type":"line","color":"#2a7f54","strokeWidth":1.4},"encoding":{"x":{"field":"t","type":"quantitative"},"y":{"field":"v","type":"quantitative"}}},
{"data":{"name":"pavg"},"mark":{"type":"line","color":"#9e70c4","strokeWidth":2.2,"interpolate":"monotone"},"encoding":{"x":{"field":"t","type":"quantitative"},"y":{"field":"v","type":"quantitative"}}},
{"data":{"name":"psin"},"mark":{"type":"line","color":"#c967a0","strokeWidth":2.2,"interpolate":"monotone"},"encoding":{"x":{"field":"t","type":"quantitative"},"y":{"field":"v","type":"quantitative"}}},
{"data":{"name":"aavg"},"mark":{"type":"line","color":"#f6b447","strokeWidth":2.2,"interpolate":"monotone"},"encoding":{"x":{"field":"t","type":"quantitative"},"y":{"field":"v","type":"quantitative"}}},
{"data":{"name":"asin"},"mark":{"type":"line","color":"#e0716f","strokeWidth":2.2,"interpolate":"monotone"},"encoding":{"x":{"field":"t","type":"quantitative"},"y":{"field":"v","type":"quantitative"}}},
{"data":{"name":"one"},"mark":{"type":"rect","fill":{"gradient":"linear","x1":0,"y1":0,"x2":0,"y2":1,"stops":[{"offset":0,"color":"#ed1c24"},{"offset":0.55,"color":"#f37279"},{"offset":1,"color":"#ffffff"}]}},"encoding":{"x":{"datum":-2.11},"x2":{"datum":-1.63},"y":{"datum":0},"y2":{"datum":155}}},
{"data":{"name":"one"},"mark":{"type":"text","text":"Agropast. activities","angle":270,"color":"white","fontSize":23.5,"fontWeight":"bold"},"encoding":{"x":{"datum":-1.866},"y":{"datum":77}}},
{"data":{"name":"one"},"mark":{"type":"text","text":"+","color":"white","fontSize":28,"fontWeight":"bold"},"encoding":{"x":{"datum":-1.866},"y":{"datum":147.2}}},
{"data":{"name":"one"},"mark":{"type":"text","text":"↑","font":"DejaVu Sans","color":"white","fontSize":24,"fontWeight":"bold"},"encoding":{"x":{"datum":-1.866},"y":{"datum":133.5}}},
{"data":{"name":"one"},"mark":{"type":"text","text":"b)","align":"left","color":"#222","fontSize":23,"fontWeight":"bold"},"encoding":{"x":{"datum":-4.29},"y":{"datum":156}}},
{"data":{"name":"one"},"mark":{"type":"text","text":"Giza - Egypt","angle":270,"color":"#222","fontSize":24,"fontWeight":"bold"},"encoding":{"x":{"datum":-4.123},"y":{"datum":77.6}}},
{"data":{"name":"one"},"mark":{"type":"text","text":"Agriculture and pasture","angle":270,"color":"#222","fontSize":24,"fontWeight":"bold"},"encoding":{"x":{"datum":-3.687},"y":{"datum":77.6}}},
{"data":{"name":"one"},"mark":{"type":"text","text":"scores","angle":270,"color":"#222","fontSize":24},"encoding":{"x":{"datum":-3.311},"y":{"datum":77.6}}},
{"data":{"name":"one"},"mark":{"type":"text","text":"scores","angle":90,"color":"#222","fontSize":24},"encoding":{"x":{"datum":7.073},"y":{"datum":76.8}}},
{"data":{"name":"one"},"mark":{"type":"text","text":"Pollen-derived Nile level","angle":90,"color":"#222","fontSize":24,"fontWeight":"bold"},"encoding":{"x":{"datum":7.494},"y":{"datum":76.8}}},
{"data":{"name":"one"},"mark":{"type":"text","text":"K-1 - Giza - Egypt","angle":90,"color":"#222","fontSize":24,"fontWeight":"bold"},"encoding":{"x":{"datum":7.916},"y":{"datum":76.8}}},
{"data":{"name":"one"},"mark":{"type":"text","text":"Pasture","font":"Liberation Sans Narrow, Roboto","color":"#5abf68","fontSize":16,"fontWeight":"bold"},"encoding":{"x":{"datum":-0.39},"y":{"datum":52.5}}},
{"data":{"name":"one"},"mark":{"type":"text","text":"Nile level","font":"Liberation Sans Narrow, Roboto","color":"#4a9ad6","fontSize":16,"fontWeight":"bold"},"encoding":{"x":{"datum":4.77},"y":{"datum":52.5}}},
{"data":{"name":"one"},"mark":{"type":"text","text":"Agriculture","font":"Liberation Sans Narrow, Roboto","color":"#e2f1e8","fontSize":16,"fontWeight":"bold"},"encoding":{"x":{"datum":2.227},"y":{"datum":9.2}}},
{"data":{"name":"one"},"mark":{"type":"text","text":["Decline of","the hydrological","budget"],"baseline":"top","lineHeight":23.5,"color":"#6877c0","fontSize":22.5,"fontWeight":"bold"},"encoding":{"x":{"datum":0.9},"y":{"datum":160}}},
{"data":{"name":"one"},"mark":{"type":"text","text":["African","Humid","Period"],"baseline":"top","lineHeight":23.5,"color":"#6877c0","fontSize":22.5,"fontWeight":"bold"},"encoding":{"x":{"datum":4.8},"y":{"datum":160}}},
{"data":{"name":"one"},"mark":{"type":"rule","color":"#6877c0","strokeWidth":2},"encoding":{"x":{"datum":2.55},"x2":{"datum":3.64},"y":{"datum":157}}},
{"data":{"name":"one"},"mark":{"type":"point","shape":"triangle-left","filled":true,"color":"#6877c0","opacity":1,"size":90},"encoding":{"x":{"datum":2.49},"y":{"datum":157}}}
]},
{"layer":[
{"data":{"name":"nile"},"mark":{"type":"line","color":"#3b8bd0","strokeWidth":1.8},"encoding":{"x":{"field":"t","type":"quantitative"},"y":{"field":"w","type":"quantitative","scale":{"domain":[-5,3],"nice":false,"zero":false,"reverse":true},"axis":null}}},
{"data":{"name":"nilePoly"},"mark":{"type":"line","color":"#7a82c2","strokeWidth":2.6,"interpolate":"monotone"},"encoding":{"x":{"field":"t","type":"quantitative"},"y":{"field":"w","type":"quantitative"}}}
]},
{"layer":[
{"data":{"name":"legB"},"transform":[{"filter":"indexof(['nile','past','agri'],datum.key) >= 0"}],"mark":{"type":"rule","strokeWidth":1.6},"encoding":{"x":{"datum":8.575},"x2":{"datum":9.1},"y":{"field":"row","type":"quantitative","scale":{"domain":[-2.211,16.623],"nice":false,"zero":false,"reverse":true},"axis":null},"color":{"field":"key","type":"nominal","scale":{"domain":["nile","band","poly","past","pavg","psin","agri","aavg","asin"],"range":["#4a9ad8","#b5d5ee","#7b84c4","#7fd38a","#a47ac6","#c96ea4","#2e8a5c","#f9c47a","#e27a80"]},"legend":null}}},
{"data":{"name":"legB"},"transform":[{"filter":"indexof(['poly','pavg','psin','aavg','asin'],datum.key) >= 0"}],"mark":{"type":"rule","strokeWidth":3.2},"encoding":{"x":{"datum":8.575},"x2":{"datum":9.1},"y":{"field":"row","type":"quantitative"},"color":{"field":"key","type":"nominal","legend":null}}},
{"data":{"name":"legB"},"transform":[{"filter":"datum.key == 'band'"}],"mark":{"type":"rule","strokeWidth":15},"encoding":{"x":{"datum":8.575},"x2":{"datum":9.1},"y":{"field":"row","type":"quantitative"},"color":{"field":"key","type":"nominal","legend":null}}},
{"data":{"name":"legB"},"mark":{"type":"text","align":"left","baseline":"middle","fontSize":18,"color":"#2a2a2a"},"encoding":{"x":{"datum":9.225},"y":{"field":"row","type":"quantitative"},"text":{"field":"label"}}},
{"data":{"name":"legB"},"transform":[{"filter":"datum.suffix"}],"mark":{"type":"text","align":"left","baseline":"middle","fontSize":18,"color":"#2a2a2a","dx":43},"encoding":{"x":{"datum":9.225},"y":{"field":"row","type":"quantitative"},"text":{"field":"suffix"}}},
{"data":{"name":"legB"},"transform":[{"filter":"datum.label == 'P'"}],"mark":{"type":"text","text":"value","align":"left","baseline":"middle","fontSize":9,"fontWeight":"bold","color":"#2a2a2a","dx":12,"dy":8},"encoding":{"x":{"datum":9.225},"y":{"field":"row","type":"quantitative"}}}
]}
]
},
{
"width":531,"height":420,
"resolve":{"scale":{"y":"independent"}},
"layer":[
{"layer":[
{"data":{"name":"agro"},"mark":{"type":"area","color":"#e2eee7","interpolate":"monotone"},"encoding":{"x":{"field":"t","type":"quantitative","scale":{"domain":[-2,6],"nice":false,"zero":false},"axis":{"orient":"bottom","offset":2,"tickCount":1000,"values":[-2,-1.9,-1.8,-1.7,-1.6,-1.5,-1.4,-1.3,-1.2,-1.1,-1,-0.9,-0.8,-0.7,-0.6,-0.5,-0.4,-0.3,-0.2,-0.1,0,0.1,0.2,0.3,0.4,0.5,0.6,0.7,0.8,0.9,1,1.1,1.2,1.3,1.4,1.5,1.6,1.7,1.8,1.9,2,2.1,2.2,2.3,2.4,2.5,2.6,2.7,2.8,2.9,3,3.1,3.2,3.3,3.4,3.5,3.6,3.7,3.8,3.9,4,4.1,4.2,4.3,4.4,4.5,4.6,4.7,4.8,4.9,5,5.1,5.2,5.3,5.4,5.5,5.6,5.7,5.8,5.9,6],"labelExpr":"abs(datum.value-round(datum.value))<0.001 ? format(abs(round(datum.value)),'d') : ''","tickSize":{"condition":{"test":"abs(datum.value-round(datum.value))<0.001","value":9},"value":5},"title":"Time (kyr CE - BCE)","titleFontSize":22,"titleFontWeight":"bold","titleColor":"#222","titlePadding":4,"labelPadding":3}},"y":{"field":"v","type":"quantitative","scale":{"domain":[-80,80],"nice":false,"zero":false},"axis":{"orient":"left","offset":12,"tickCount":1000,"values":[-80,-76,-72,-68,-64,-60,-56,-52,-48,-44,-40,-36,-32,-28,-24,-20,-16,-12,-8,-4,0,4,8,12,16,20,24,28,32,36,40,44,48,52,56,60,64,68,72,76,80],"labelExpr":"datum.value % 20 == 0 ? (datum.value < 0 ? '-' : '') + format(abs(datum.value),'d') : ''","tickSize":{"condition":{"test":"datum.value % 20 == 0","value":9},"value":5},"title":null,"labelPadding":2}},"y2":{"datum":-80}}},
{"data":{"name":"agro"},"mark":{"type":"area","color":"#a9cde9","opacity":0.75,"interpolate":"monotone"},"encoding":{"x":{"field":"t","type":"quantitative"},"y":{"field":"lo","type":"quantitative"},"y2":{"field":"hi"}}},
{"data":{"name":"periods"},"mark":{"type":"rect","color":"#f9ef9f","opacity":0.5},"encoding":{"x":{"field":"t0","type":"quantitative"},"x2":{"field":"t1"},"y":{"datum":-80},"y2":{"datum":80}}},
{"data":{"name":"periods"},"mark":{"type":"text","color":"#b0589a","fontSize":17,"fontWeight":"bold"},"encoding":{"x":{"field":"tm","type":"quantitative"},"y":{"datum":75},"text":{"field":"n"}}},
{"data":{"name":"sinC"},"mark":{"type":"line","color":"#7f86c4","strokeWidth":2.6,"opacity":0.9,"interpolate":"monotone"},"encoding":{"x":{"field":"t","type":"quantitative"},"y":{"field":"v","type":"quantitative"}}},
{"data":{"name":"agro"},"mark":{"type":"line","color":"#1f7a4c","strokeWidth":2,"interpolate":"monotone"},"encoding":{"x":{"field":"t","type":"quantitative"},"y":{"field":"v","type":"quantitative"}}},
{"data":{"name":"one"},"mark":{"type":"rect","fill":{"gradient":"linear","x1":0,"y1":0,"x2":0,"y2":1,"stops":[{"offset":0,"color":"#ed1c24"},{"offset":0.55,"color":"#f37279"},{"offset":1,"color":"#ffffff"}]}},"encoding":{"x":{"datum":-2.11},"x2":{"datum":-1.63},"y":{"datum":-80},"y2":{"datum":80}}},
{"data":{"name":"one"},"mark":{"type":"text","text":"Agropast. activities","angle":270,"color":"white","fontSize":23.5,"fontWeight":"bold"},"encoding":{"x":{"datum":-1.866},"y":{"datum":1}}},
{"data":{"name":"one"},"mark":{"type":"text","text":"+","color":"white","fontSize":28,"fontWeight":"bold"},"encoding":{"x":{"datum":-1.866},"y":{"datum":71.2}}},
{"data":{"name":"one"},"mark":{"type":"text","text":"↑","font":"DejaVu Sans","color":"white","fontSize":24,"fontWeight":"bold"},"encoding":{"x":{"datum":-1.866},"y":{"datum":57.1}}},
{"data":{"name":"one"},"mark":{"type":"text","text":"c)","align":"left","color":"#222","fontSize":23,"fontWeight":"bold"},"encoding":{"x":{"datum":-4.29},"y":{"datum":79.2}}},
{"data":{"name":"one"},"mark":{"type":"text","text":"Giza - Egypt","angle":270,"color":"#222","fontSize":24,"fontWeight":"bold"},"encoding":{"x":{"datum":-4.123},"y":{"datum":0}}},
{"data":{"name":"one"},"mark":{"type":"text","text":"Agropastoral activities","angle":270,"color":"#222","fontSize":24,"fontWeight":"bold"},"encoding":{"x":{"datum":-3.687},"y":{"datum":0}}},
{"data":{"name":"one"},"mark":{"type":"text","text":"PCA-Axis 1 scores","angle":270,"color":"#222","fontSize":24},"encoding":{"x":{"datum":-3.311},"y":{"datum":0}}},
{"data":{"name":"one"},"mark":{"type":"text","text":"scores","angle":90,"color":"#222","fontSize":24},"encoding":{"x":{"datum":7.073},"y":{"datum":-0.4}}},
{"data":{"name":"one"},"mark":{"type":"text","text":"Rate of change","angle":90,"color":"#222","fontSize":24,"fontWeight":"bold"},"encoding":{"x":{"datum":7.494},"y":{"datum":-0.4}}},
{"data":{"name":"one"},"mark":{"type":"text","text":"Giza - Egypt","angle":90,"color":"#222","fontSize":24,"fontWeight":"bold"},"encoding":{"x":{"datum":7.916},"y":{"datum":-0.4}}},
{"data":{"name":"one"},"mark":{"type":"text","text":"Giza","font":"Liberation Sans Narrow, Roboto","color":"#2f7d55","fontSize":16,"fontWeight":"bold"},"encoding":{"x":{"datum":1.86},"y":{"datum":-9.5}}},
{"data":{"name":"one"},"mark":{"type":"text","text":["Agropast.","activities"],"baseline":"top","lineHeight":17,"font":"Liberation Sans Narrow, Roboto","color":"#9fcf6a","fontSize":15.5,"fontWeight":"bold"},"encoding":{"x":{"datum":1.86},"y":{"datum":-16.3}}},
{"data":{"name":"one"},"mark":{"type":"rect","fill":"white","fillOpacity":0,"stroke":"#a8457e","strokeWidth":1.5},"encoding":{"x":{"datum":3.28},"x2":{"datum":5.64},"y":{"datum":54},"y2":{"datum":23.1}}},
{"data":{"name":"one"},"mark":{"type":"text","text":["4- Roman Period","3- Ptolemaic Period","2- Third Int. Period","1- Old Kingdom"],"align":"left","baseline":"top","lineHeight":17.4,"color":"#b24a87","fontSize":15},"encoding":{"x":{"datum":3.377},"y":{"datum":51.2}}}
]},
{"layer":[
{"data":{"name":"roc50"},"mark":{"type":"line","color":"#f9b040","strokeWidth":1.4},"encoding":{"x":{"field":"t","type":"quantitative"},"y":{"field":"r","type":"quantitative","scale":{"domain":[-20,80],"nice":false,"zero":false},"axis":{"orient":"right","offset":2,"tickCount":1000,"values":[-20,-19,-18,-17,-16,-15,-14,-13,-12,-11,-10,-9,-8,-7,-6,-5,-4,-3,-2,-1,0,1,2,3,4,5,6,7,8,9,10,11,12,13,14,15,16,17,18,19,20,21,22,23,24,25,26,27,28,29,30,31,32,33,34,35,36,37,38,39,40,41,42,43,44,45,46,47,48,49,50,51,52,53,54,55,56,57,58,59,60,61,62,63,64,65,66,67,68,69,70,71,72,73,74,75,76,77,78,79,80],"labelExpr":"datum.value % 10 == 0 ? (datum.value < 0 ? '-' : '') + format(abs(datum.value),'d') : ''","tickSize":{"condition":{"test":"datum.value % 10 == 0","value":9},"value":5},"title":null,"labelPadding":2}}}},
{"data":{"name":"roc100"},"mark":{"type":"line","color":"#f58a4a","strokeWidth":1.4},"encoding":{"x":{"field":"t","type":"quantitative"},"y":{"field":"r","type":"quantitative"}}},
{"data":{"name":"roc200"},"mark":{"type":"line","color":"#ef5350","strokeWidth":1.4},"encoding":{"x":{"field":"t","type":"quantitative"},"y":{"field":"r","type":"quantitative"}}},
{"data":{"name":"roc250"},"mark":{"type":"line","color":"#d92b30","strokeWidth":1.4},"encoding":{"x":{"field":"t","type":"quantitative"},"y":{"field":"r","type":"quantitative"}}}
]},
{"layer":[
{"data":{"name":"legC"},"transform":[{"filter":"indexof(['agro','r50','r100','r200','r250'],datum.key) >= 0"}],"mark":{"type":"rule","strokeWidth":1.6},"encoding":{"x":{"datum":8.575},"x2":{"datum":9.1},"y":{"field":"row","type":"quantitative","scale":{"domain":[-4.33,14.48],"nice":false,"zero":false,"reverse":true},"axis":null},"color":{"field":"key","type":"nominal","scale":{"domain":["agro","band","sin","r50","r100","r200","r250"],"range":["#2e7d57","#cfe3f2","#7f86c4","#f9ba5c","#f59068","#f06068","#dc3c48"]},"legend":null}}},
{"data":{"name":"legC"},"transform":[{"filter":"datum.key == 'sin'"}],"mark":{"type":"rule","strokeWidth":3.2},"encoding":{"x":{"datum":8.575},"x2":{"datum":9.1},"y":{"field":"row","type":"quantitative"},"color":{"field":"key","type":"nominal","legend":null}}},
{"data":{"name":"legC"},"transform":[{"filter":"datum.key == 'band'"}],"mark":{"type":"rule","strokeWidth":15},"encoding":{"x":{"datum":8.575},"x2":{"datum":9.1},"y":{"field":"row","type":"quantitative"},"color":{"field":"key","type":"nominal","legend":null}}},
{"data":{"name":"legC"},"mark":{"type":"text","align":"left","baseline":"middle","fontSize":18,"color":"#2a2a2a"},"encoding":{"x":{"datum":9.225},"y":{"field":"row","type":"quantitative"},"text":{"field":"label"}}},
{"data":{"name":"legC"},"transform":[{"filter":"datum.suffix"}],"mark":{"type":"text","align":"left","baseline":"middle","fontSize":18,"color":"#2a2a2a","dx":43},"encoding":{"x":{"datum":9.225},"y":{"field":"row","type":"quantitative"},"text":{"field":"suffix"}}},
{"data":{"name":"legC"},"transform":[{"filter":"datum.label == 'P'"}],"mark":{"type":"text","text":"value","align":"left","baseline":"middle","fontSize":9,"fontWeight":"bold","color":"#2a2a2a","dx":12,"dy":8},"encoding":{"x":{"datum":9.225},"y":{"field":"row","type":"quantitative"}}},
{"data":{"name":"one"},"mark":{"type":"rule","color":"#111","strokeWidth":1.5},"encoding":{"x":{"datum":8.82},"x2":{"datum":9.1},"y":{"datum":5}}},
{"data":{"name":"one"},"mark":{"type":"rule","color":"#111","strokeWidth":1.5},"encoding":{"x":{"datum":8.82},"y":{"datum":5},"y2":{"datum":6.2}}},
{"data":{"name":"one"},"mark":{"type":"point","shape":"triangle-down","filled":true,"color":"#111","opacity":1,"size":90},"encoding":{"x":{"datum":8.82},"y":{"datum":6.3}}}
]}
]
}
]
}
